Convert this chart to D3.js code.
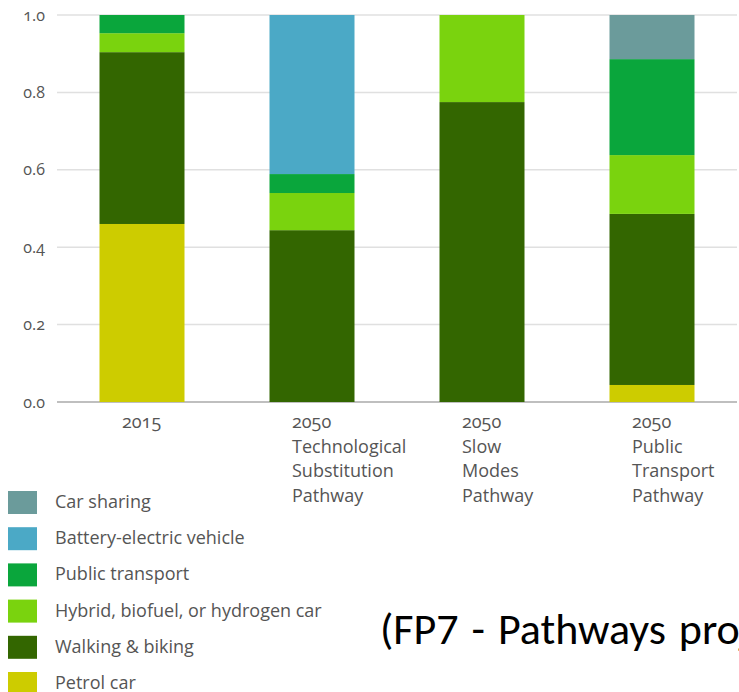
<!DOCTYPE html>
<html>
<head>
<meta charset="utf-8">
<script src="https://cdn.jsdelivr.net/npm/d3@7"></script>
<style>
  html, body { margin: 0; padding: 0; background: #fff; overflow: hidden; }
  svg { display: block; }
  .lbl { font-family: "Open Sans", "Noto Sans", sans-serif; fill: #555; font-feature-settings: "onum"; }
</style>
</head>
<body>
<svg id="chart" width="739" height="692"></svg>
<script>
// ---- data ----
const categories = ["2015", "2050 TSP", "2050 SMP", "2050 PTP"];
const categoryLabels = [
  ["2015"],
  ["2050", "Technological", "Substitution", "Pathway"],
  ["2050", "Slow", "Modes", "Pathway"],
  ["2050", "Public", "Transport", "Pathway"]
];
const seriesNames = ["Petrol car", "Walking & biking", "Hybrid, biofuel, or hydrogen car",
                     "Public transport", "Battery-electric vehicle", "Car sharing"];
const petrolCar        = [0.460, 0.000, 0.000, 0.044];
const walkingBiking    = [0.444, 0.444, 0.775, 0.442];
const hybridCar        = [0.049, 0.096, 0.225, 0.152];
const publicTransport  = [0.047, 0.049, 0.000, 0.248];
const batteryElectric  = [0.000, 0.411, 0.000, 0.000];
const carSharing       = [0.000, 0.000, 0.000, 0.114];
const seriesColors = ["#cdcc00", "#336600", "#7ad30e", "#0aa63c", "#4ba9c6", "#6b9b9b"];
const yTicks = [0, 0.2, 0.4, 0.6, 0.8, 1.0];
const footnote = "(FP7 - Pathways project)";

// ---- build table ----
const seriesValues = [petrolCar, walkingBiking, hybridCar, publicTransport, batteryElectric, carSharing];
const table = categories.map((c, i) => {
  const row = { category: c };
  seriesNames.forEach((s, k) => row[s] = seriesValues[k][i]);
  return row;
});
const stacked = d3.stack().keys(seriesNames)(table);

const svg = d3.select("#chart");
const x = d3.scaleBand().domain(categories).range([57, 737]).paddingInner(0.5).paddingOuter(0.25);
const y = d3.scaleLinear().domain([0, 1]).range([402, 15]);
const color = d3.scaleOrdinal().domain(seriesNames).range(seriesColors);

// gridlines
svg.append("g").selectAll("line").data(yTicks).join("line")
  .attr("x1", 57).attr("x2", 737)
  .attr("y1", d => y(d)).attr("y2", d => y(d))
  .attr("stroke", d => d === 0 ? "#aaa" : "#e0e0e0")
  .attr("stroke-width", 1.5);

// y axis labels
const yAxis = d3.axisLeft(y).tickValues(yTicks).tickFormat(d3.format(".1f")).tickSize(0).tickPadding(0);
const ya = svg.append("g").attr("transform", "translate(45,0)").call(yAxis);
ya.select(".domain").remove();
ya.selectAll("text").attr("class", "lbl").attr("font-size", 16).attr("fill", "#555");

// bars
svg.append("g").selectAll("g").data(stacked).join("g")
  .attr("fill", d => color(d.key))
  .selectAll("rect").data(d => d).join("rect")
  .attr("x", d => x(d.data.category))
  .attr("width", x.bandwidth())
  .attr("y", d => y(d[1]))
  .attr("height", d => y(d[0]) - y(d[1]));

// x labels
const xl = svg.append("g");
categories.forEach((c, i) => {
  const x0 = x(c) + x.bandwidth() / 2 - 20;
  const t = xl.append("text").attr("class", "lbl").attr("font-size", 18)
    .attr("x", x0).attr("y", 428);
  categoryLabels[i].forEach((line, j) => {
    t.append("tspan").attr("x", x0).attr("y", 428 + j * 24.5).text(line);
  });
});

// legend (top to bottom: reverse of stack)
const legendItems = seriesNames.slice().reverse();
const lg = svg.append("g").selectAll("g").data(legendItems).join("g")
  .attr("transform", (d, i) => `translate(8,${491 + i * 36.2})`);
lg.append("rect").attr("width", 29).attr("height", 23).attr("fill", d => color(d));
lg.append("text").attr("class", "lbl").attr("font-size", 18)
  .attr("x", 47).attr("y", 17).text(d => d);

// footnote
svg.append("text").attr("x", 380).attr("y", 644)
  .attr("font-family", "Carlito, 'Open Sans', 'Noto Sans', sans-serif")
  .attr("font-size", 44).attr("word-spacing", 3).attr("fill", "#000").text(footnote);
</script>
</body>
</html>
